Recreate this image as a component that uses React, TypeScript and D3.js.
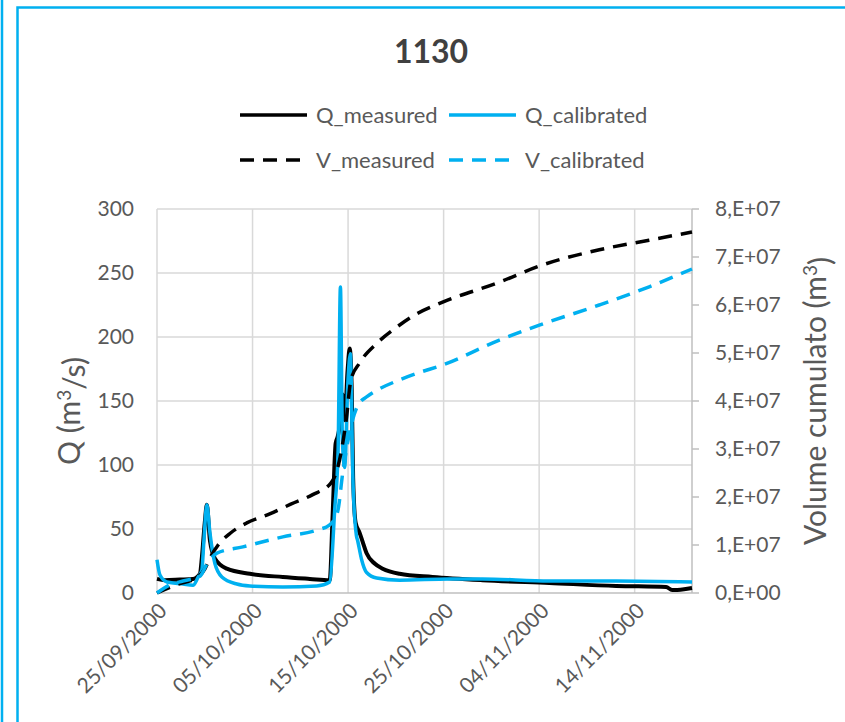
import React, { useEffect, useRef } from "react";
import * as d3 from "d3";

const START = Date.UTC(2000, 8, 25);
const DAY_MS = 86400000;
const LAST_DAY = 56;

// x axis ticks (days from 25/09/2000)
const xTickDays = [0, 10, 20, 30, 40, 50];
const xTickLabels = ["25/09/2000", "05/10/2000", "15/10/2000", "25/10/2000", "04/11/2000", "14/11/2000"];

const qTicks = [0, 50, 100, 150, 200, 250, 300];
const vTicks = [0, 1e7, 2e7, 3e7, 4e7, 5e7, 6e7, 7e7, 8e7];
const vTickLabels = ["0,E+00", "1,E+07", "2,E+07", "3,E+07", "4,E+07", "5,E+07", "6,E+07", "7,E+07", "8,E+07"];

// Q_measured (m3/s)
const qMeasDays = [0, 0.84, 2.4, 3.76, 4.49, 4.7, 5.0, 5.22, 5.54, 6.06, 7.31, 9.72, 13.17, 16.0, 18.08, 18.39, 18.7, 18.91, 19.12, 19.44, 19.64, 19.96, 20.17, 20.38, 20.53, 20.79, 21.21, 21.53, 21.94, 22.78, 23.62, 25.39, 28.84, 34.07, 41.07, 48.07, 53.29, 53.92, 55.17, 56.0];
const qMeasValues = [11, 10, 10.5, 11, 15, 28, 55, 69, 41, 27, 19, 15, 12.5, 11, 10, 62, 117, 122, 130, 155, 135, 175, 191, 160, 90, 55, 47, 40, 31, 23, 19, 15, 12.5, 10, 7.8, 5.5, 4.7, 2.3, 3, 3.9];

// Q_calibrated (m3/s)
const qCalDays = [0, 0.31, 1.04, 2.72, 3.76, 4.28, 4.7, 4.91, 5.22, 5.54, 6.06, 6.79, 8.36, 9.72, 13.17, 16.72, 18.08, 18.6, 18.95, 19.2, 19.41, 19.64, 19.99, 20.24, 20.51, 20.87, 21.0, 21.42, 21.94, 22.99, 25.39, 30.62, 34.07, 41.07, 48.07, 56.0];
const qCalValues = [26, 14, 8.6, 7, 6, 12, 18, 41, 69, 47, 23, 12.5, 7, 5.5, 4.7, 5.5, 8.6, 65, 109, 239, 119, 98, 166, 187, 88, 45, 41, 26, 16, 11.7, 10, 11, 11, 9.4, 9.4, 8.6];

// V_measured (m3)
const vMeasDays = [0, 2.0, 4.2, 5.0, 5.6, 6.4, 7.7, 9.4, 11.8, 14.0, 16.3, 18.2, 18.9, 19.8, 20.3, 21.2, 23.0, 25.1, 27.3, 29.9, 35.9, 40.0, 46.3, 51.5, 56.0];
const vMeasValues = [0, 0.17e7, 0.32e7, 0.5e7, 0.75e7, 1.0e7, 1.25e7, 1.46e7, 1.65e7, 1.85e7, 2.05e7, 2.29e7, 2.6e7, 3.6e7, 4.44e7, 4.79e7, 5.2e7, 5.54e7, 5.83e7, 6.06e7, 6.48e7, 6.81e7, 7.15e7, 7.35e7, 7.52e7];

// V_calibrated (m3)
const vCalDays = [0, 1.36, 2.72, 4.49, 5.22, 6.27, 8.99, 13.17, 16.72, 18.08, 18.91, 19.44, 20.17, 21.0, 22.05, 22.99, 25.39, 27.27, 29.89, 35.84, 40.02, 46.29, 51.52, 56.0];
const vCalValues = [0, 0.17e7, 0.25e7, 0.35e7, 0.6e7, 0.83e7, 0.96e7, 1.17e7, 1.31e7, 1.42e7, 1.7e7, 2.5e7, 3.35e7, 3.9e7, 4.1e7, 4.22e7, 4.44e7, 4.58e7, 4.75e7, 5.27e7, 5.58e7, 6.0e7, 6.38e7, 6.75e7];

const BLUE = "#00B0F0";
const TEXT = "#595959";
const FONT = "Lato, 'Open Sans', sans-serif";
const DASH = "14,9";

const toDate = (d: number) => new Date(START + d * DAY_MS);

const App: React.FC = () => {
  const svgRef = useRef<SVGSVGElement>(null);

  useEffect(() => {
    const svg = d3.select(svgRef.current);
    svg.selectAll("*").remove();

    const width = 845;
    const height = 722;
    const margin = { top: 209, right: 153, bottom: 129, left: 157 };

    svg.append("rect").attr("width", width).attr("height", height).attr("fill", "#fff");

    // frame lines
    svg.append("line").attr("x1", 2).attr("x2", 2).attr("y1", 0).attr("y2", height)
      .attr("stroke", BLUE).attr("stroke-width", 2.5);
    svg.append("path").attr("d", `M${width + 5},7.5 H17.5 V${height + 5}`)
      .attr("fill", "none").attr("stroke", BLUE).attr("stroke-width", 2.5);

    const x = d3.scaleUtc()
      .domain([toDate(0), toDate(LAST_DAY)])
      .range([margin.left, width - margin.right]);
    const yQ = d3.scaleLinear().domain([0, 300]).range([height - margin.bottom, margin.top]);
    const yV = d3.scaleLinear().domain([0, 8e7]).range([height - margin.bottom, margin.top]);

    const x0 = margin.left;
    const x1 = width - margin.right;
    const y0 = height - margin.bottom;

    // horizontal grid
    svg.append("g").selectAll("line").data(qTicks.slice(1)).enter().append("line")
      .attr("x1", x0).attr("x2", x1)
      .attr("y1", (d) => yQ(d)).attr("y2", (d) => yQ(d))
      .attr("stroke", "#D9D9D9").attr("stroke-width", 1.5);
    // vertical grid
    svg.append("g").selectAll("line").data(xTickDays).enter().append("line")
      .attr("x1", (d) => x(toDate(d))).attr("x2", (d) => x(toDate(d)))
      .attr("y1", margin.top).attr("y2", y0)
      .attr("stroke", "#D9D9D9").attr("stroke-width", 1.5);

    // bottom axis line
    svg.append("line").attr("x1", x0).attr("x2", x1).attr("y1", y0).attr("y2", y0)
      .attr("stroke", "#BFBFBF").attr("stroke-width", 1.5);
    // right axis line + ticks
    svg.append("line").attr("x1", x1).attr("x2", x1).attr("y1", margin.top).attr("y2", y0)
      .attr("stroke", "#BFBFBF").attr("stroke-width", 1.5);
    svg.append("g").selectAll("line").data(vTicks).enter().append("line")
      .attr("x1", x1).attr("x2", x1 + 7)
      .attr("y1", (d) => yV(d)).attr("y2", (d) => yV(d))
      .attr("stroke", "#BFBFBF").attr("stroke-width", 1.5);

    // left tick labels
    svg.append("g").selectAll("text").data(qTicks).enter().append("text")
      .attr("x", 134).attr("y", (d) => yQ(d)).attr("dy", "0.35em")
      .attr("text-anchor", "end").attr("fill", TEXT)
      .style("font-family", FONT).style("font-size", "21px")
      .text((d) => String(d));

    // right tick labels
    svg.append("g").selectAll("text").data(vTicks).enter().append("text")
      .attr("x", 715).attr("y", (d) => yV(d)).attr("dy", "0.35em")
      .attr("fill", TEXT)
      .style("font-family", FONT).style("font-size", "21px")
      .text((d, i) => vTickLabels[i]);

    // x tick labels
    svg.append("g").selectAll("text").data(xTickDays).enter().append("text")
      .attr("transform", (d) => `translate(${x(toDate(d)) + 6},${y0 + 14}) rotate(-45)`)
      .attr("dy", "0.35em")
      .attr("text-anchor", "end").attr("fill", TEXT)
      .style("font-family", FONT).style("font-size", "21px")
      .text((d, i) => xTickLabels[i]);

    // axis titles
    const qTitle = svg.append("text")
      .attr("transform", `translate(80,${(margin.top + y0) / 2 + 10}) rotate(-90)`)
      .attr("text-anchor", "middle").attr("fill", TEXT)
      .style("font-family", FONT).style("font-size", "30px");
    qTitle.append("tspan").text("Q (m");
    qTitle.append("tspan").attr("dy", "-0.45em").style("font-size", "19px").text("3");
    qTitle.append("tspan").attr("dy", "0.45em").text("/s)");

    const vTitle = svg.append("text")
      .attr("transform", `translate(826,${(margin.top + y0) / 2}) rotate(-90)`)
      .attr("text-anchor", "middle").attr("fill", TEXT)
      .style("font-family", FONT).style("font-size", "30px");
    vTitle.append("tspan").text("Volume cumulato (m");
    vTitle.append("tspan").attr("dy", "-0.45em").style("font-size", "19px").text("3");
    vTitle.append("tspan").attr("dy", "0.45em").text(")");

    // chart title
    svg.append("text").attr("x", 431).attr("y", 63)
      .attr("text-anchor", "middle").attr("fill", "#404040")
      .style("font-family", FONT).style("font-size", "32px").style("font-weight", "bold")
      .text("1130");

    // series
    const lineQ = d3.line<[number, number]>()
      .x((d) => x(toDate(d[0])))
      .y((d) => yQ(d[1]))
      .curve(d3.curveMonotoneX);
    const lineV = d3.line<[number, number]>()
      .x((d) => x(toDate(d[0])))
      .y((d) => yV(d[1]))
      .curve(d3.curveMonotoneX);

    const zip = (a: number[], b: number[]) => a.map((d, i) => [d, b[i]] as [number, number]);

    svg.append("path").datum(zip(qMeasDays, qMeasValues)).attr("d", lineQ)
      .attr("fill", "none").attr("stroke", "#000").attr("stroke-width", 4)
      .attr("stroke-linejoin", "round");
    svg.append("path").datum(zip(qCalDays, qCalValues)).attr("d", lineQ)
      .attr("fill", "none").attr("stroke", BLUE).attr("stroke-width", 3.5)
      .attr("stroke-linejoin", "round");
    svg.append("path").datum(zip(vMeasDays, vMeasValues)).attr("d", lineV)
      .attr("fill", "none").attr("stroke", "#000").attr("stroke-width", 3.5)
      .attr("stroke-dasharray", DASH);
    svg.append("path").datum(zip(vCalDays, vCalValues)).attr("d", lineV)
      .attr("fill", "none").attr("stroke", BLUE).attr("stroke-width", 3.5)
      .attr("stroke-dasharray", DASH);

    // legend
    const legend = [
      { label: "Q_measured", color: "#000", dash: null, lx: 240, ly: 115 },
      { label: "Q_calibrated", color: BLUE, dash: null, lx: 449, ly: 115 },
      { label: "V_measured", color: "#000", dash: DASH, lx: 240, ly: 160 },
      { label: "V_calibrated", color: BLUE, dash: DASH, lx: 449, ly: 160 },
    ];
    legend.forEach((l) => {
      svg.append("line").attr("x1", l.lx).attr("x2", l.lx + 67)
        .attr("y1", l.ly).attr("y2", l.ly)
        .attr("stroke", l.color).attr("stroke-width", 3.5)
        .attr("stroke-dasharray", l.dash);
      svg.append("text").attr("x", l.lx + 76).attr("y", l.ly).attr("dy", "0.35em")
        .attr("fill", TEXT)
        .style("font-family", FONT).style("font-size", "22px")
        .text(l.label);
    });
  }, []);

  return (
    <svg
      ref={svgRef}
      width={845}
      height={722}
      style={{ position: "absolute", left: 0, top: 0, display: "block" }}
    />
  );
};

export default App;
